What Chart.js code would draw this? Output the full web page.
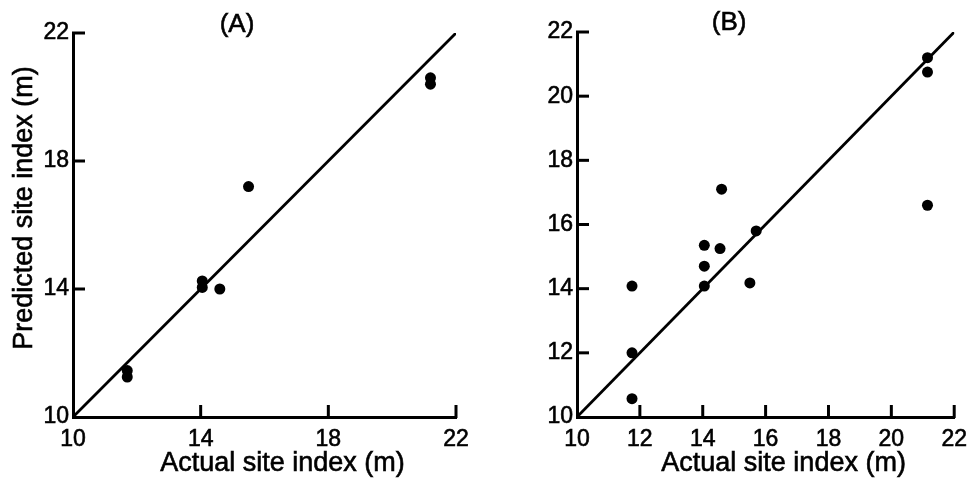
<!DOCTYPE html>
<html><head><meta charset="utf-8">
<script src="https://cdn.jsdelivr.net/npm/chart.js@4"></script>
<style>
html,body{margin:0;padding:0;background:#fff;}
#wrap{position:relative;width:976px;height:485px;}
canvas{position:absolute;top:0;}
</style>
</head><body>
<div id="wrap">
<canvas id="cA" width="490" height="485" style="left:0px"></canvas>
<canvas id="cB" width="486" height="485" style="left:490px"></canvas>
</div>
<script>
const panelTitles = ['(A)', '(B)'];
const xAxisTitle = 'Actual site index (m)';
const yAxisTitle = 'Predicted site index (m)';
const axisRange = [10, 22];
const ticksA = [10, 14, 18, 22];
const ticksB = [10, 12, 14, 16, 18, 20, 22];
const actualA    = [21.2, 21.2, 15.5, 14.05, 14.05, 14.6, 11.7, 11.7];
const predictedA = [20.6, 20.4, 17.2, 14.25, 14.05, 14.0, 11.45, 11.25];
const actualB    = [21.15, 21.15, 21.15, 14.6, 15.7, 14.05, 14.55, 14.05, 14.05, 15.5, 11.75, 11.75, 11.75];
const predictedB = [21.2, 20.75, 16.6, 17.1, 15.8, 15.35, 15.25, 14.7, 14.08, 14.18, 14.08, 12.0, 10.57];
const oneToOne = [10, 22];

const FONT = '"Liberation Sans", Arial, Helvetica, sans-serif';
Chart.defaults.font.family = FONT;
Chart.defaults.color = '#000';

// inward tick marks, placed through the scales
const inwardTicks = {
  id: 'inwardTicks',
  afterDraw(chart) {
    const ctx = chart.ctx, a = chart.chartArea;
    const xs = chart.scales.x, ys = chart.scales.y;
    ctx.save();
    ctx.strokeStyle = '#000000';
    ctx.lineWidth = 3;
    xs.ticks.forEach(t => {
      if (t.value === xs.min) return;
      const q = xs.getPixelForValue(t.value);
      ctx.beginPath(); ctx.moveTo(q, a.bottom + 1); ctx.lineTo(q, a.bottom - 12); ctx.stroke();
    });
    ys.ticks.forEach(t => {
      if (t.value === ys.min) return;
      const q = ys.getPixelForValue(t.value);
      ctx.beginPath(); ctx.moveTo(a.left - 1, q); ctx.lineTo(a.left + 12, q); ctx.stroke();
    });
    ctx.restore();
  }
};

// panel title and axis titles
const panelText = {
  id: 'panelText',
  afterDraw(chart, args, o) {
    const ctx = chart.ctx, a = chart.chartArea;
    const cx = (a.left + a.right) / 2, cy = (a.top + a.bottom) / 2;
    ctx.save();
    ctx.fillStyle = '#000'; ctx.strokeStyle = '#000'; ctx.lineWidth = 0.6;
    ctx.textAlign = 'center'; ctx.textBaseline = 'middle';
    const draw = (t, x, y, size, rot) => {
      ctx.save(); ctx.font = size + 'px ' + FONT; ctx.translate(x, y); ctx.rotate(rot || 0);
      ctx.fillText(t, 0, 0); ctx.strokeText(t, 0, 0); ctx.restore();
    };
    draw(o.title, cx + o.titleDx, o.titleY, 26);
    draw(o.xTitle, cx + o.xTitleDx, o.xTitleY, 27);
    if (o.yTitle) draw(o.yTitle, o.yTitleX, cy + o.yTitleDy, 27, -Math.PI / 2);
    ctx.restore();
  }
};

function makePanel(canvasId, title, xs, ys, ticks, opt) {
  const pts = xs.map((x, i) => ({x: x, y: ys[i]}));
  const line = oneToOne.map(v => ({x: v, y: v}));
  const tickFont = {size: 23, lineHeight: 1.2};
  const setTicks = s => { s.ticks = ticks.map(v => ({value: v})); };
  return new Chart(document.getElementById(canvasId), {
    type: 'scatter',
    data: {
      datasets: [
        {type: 'line', data: line, borderColor: '#000', borderWidth: 2.8, pointRadius: 0, fill: false, order: 2},
        {type: 'scatter', data: pts, backgroundColor: '#000', borderColor: '#000', borderWidth: 0, pointRadius: 5.5, order: 1}
      ]
    },
    plugins: [inwardTicks, panelText],
    options: {
      responsive: false, animation: false, devicePixelRatio: 1,
      layout: {padding: {left: 0, right: opt.padRight, top: opt.padTop, bottom: 0}},
      plugins: {
        legend: {display: false}, tooltip: {enabled: false},
        panelText: {title: title, titleDx: opt.titleDx, titleY: opt.titleY,
                    xTitle: xAxisTitle, xTitleDx: 18, xTitleY: 464,
                    yTitle: opt.yTitle ? yAxisTitle : null, yTitleX: 25, yTitleDy: -17}
      },
      scales: {
        x: {
          type: 'linear', position: 'bottom', min: axisRange[0], max: axisRange[1],
          afterBuildTicks: setTicks,
          afterFit: s => { s.height = 68; },
          border: {display: true, color: '#000', width: 3},
          grid: {display: false, drawTicks: false},
          ticks: {color: '#000', font: tickFont, padding: 9, maxRotation: 0, autoSkip: false, textStrokeColor: '#000', textStrokeWidth: 0.6}
        },
        y: {
          type: 'linear', position: 'left', min: axisRange[0], max: axisRange[1],
          afterBuildTicks: setTicks,
          afterFit: s => { s.width = opt.yWidth; },
          border: {display: true, color: '#000', width: 3},
          grid: {display: false, drawTicks: false},
          ticks: {color: '#000', font: tickFont, padding: 4, autoSkip: false, textStrokeColor: '#000', textStrokeWidth: 0.6}
        }
      }
    }
  });
}

makePanel('cA', panelTitles[0], actualA, predictedA, ticksA,
  {padRight: 34, padTop: 33, yWidth: 73, titleDx: -27.5, titleY: 25, yTitle: true});
makePanel('cB', panelTitles[1], actualB, predictedB, ticksB,
  {padRight: 16, padTop: 32, yWidth: 87, titleDx: -36.5, titleY: 23, yTitle: false});
</script>
</body></html>
